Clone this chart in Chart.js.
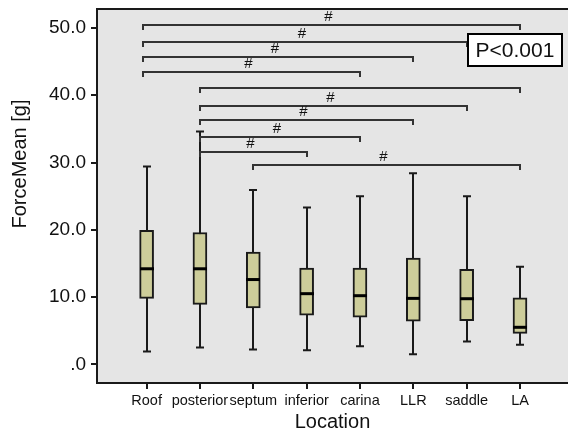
<!DOCTYPE html>
<html>
<head>
<meta charset="utf-8">
<script src="https://cdn.jsdelivr.net/npm/chart.js@4/dist/chart.umd.min.js"></script>
<style>
html, body { margin: 0; padding: 0; background: #fff; overflow: hidden; }
canvas { display: block; }
</style>
</head>
<body>
<canvas id="myChart" width="568" height="438"></canvas>
<script>
var categories = ['Roof', 'posterior', 'septum', 'inferior', 'carina', 'LLR', 'saddle', 'LA'];
var whiskerLow  = [1.9, 2.5, 2.2, 2.1, 2.7, 1.5, 3.4, 2.9];
var q1          = [9.8, 8.9, 8.4, 7.3, 7.0, 6.4, 6.5, 4.6];
var median      = [14.2, 14.2, 12.6, 10.5, 10.2, 9.8, 9.75, 5.5];
var q3          = [19.9, 19.6, 16.7, 14.3, 14.3, 15.8, 14.1, 9.9];
var whiskerHigh = [29.4, 34.6, 25.9, 23.3, 25.0, 28.4, 25.0, 14.5];
var yTicks = [0, 10, 20, 30, 40, 50];

// significance brackets: category index from / to, height in g, mark
var bracketFrom  = [0, 0, 0, 0, 1, 1, 1, 1, 1, 2];
var bracketTo    = [7, 6, 5, 4, 7, 6, 5, 4, 3, 7];
var bracketLevel = [50.4, 47.9, 45.7, 43.5, 41.1, 38.4, 36.3, 33.8, 31.5, 29.7];
var bracketMark  = ['#', '#', '#', '#', '', '#', '#', '#', '#', '#'];
var pText = 'P<0.001';

var FONT = 'Liberation Sans, Arial, sans-serif';

var extras = {
    id: 'boxExtras',
    beforeDraw: function(chart) {
        var a = chart.chartArea, ctx = chart.ctx;
        ctx.save();
        ctx.fillStyle = '#e5e5e5';
        ctx.fillRect(a.left, a.top, a.right - a.left, a.bottom - a.top);
        ctx.restore();
    },
    beforeDatasetsDraw: function(chart) {
        // whiskers, behind the boxes
        var ctx = chart.ctx, x = chart.scales.x, y = chart.scales.y;
        ctx.save();
        ctx.strokeStyle = '#1a1a1a';
        ctx.lineWidth = 2;
        for (var i = 0; i < categories.length; i++) {
            var px = Math.round(x.getPixelForValue(i + 1));
            var lo = y.getPixelForValue(whiskerLow[i]);
            var hi = y.getPixelForValue(whiskerHigh[i]);
            ctx.beginPath();
            ctx.moveTo(px, lo); ctx.lineTo(px, hi);
            ctx.moveTo(px - 4, lo); ctx.lineTo(px + 4, lo);
            ctx.moveTo(px - 4, hi); ctx.lineTo(px + 4, hi);
            ctx.stroke();
        }
        ctx.restore();
    },
    afterDatasetsDraw: function(chart) {
        var ctx = chart.ctx, x = chart.scales.x, y = chart.scales.y, a = chart.chartArea;
        ctx.save();

        // medians
        ctx.strokeStyle = '#000';
        ctx.lineWidth = 3;
        for (var i = 0; i < categories.length; i++) {
            var px = Math.round(x.getPixelForValue(i + 1));
            var m = y.getPixelForValue(median[i]);
            ctx.beginPath();
            ctx.moveTo(px - 7, m); ctx.lineTo(px + 7, m);
            ctx.stroke();
        }

        // brackets
        ctx.strokeStyle = '#333';
        ctx.lineWidth = 2;
        ctx.fillStyle = '#111';
        ctx.font = '15px ' + FONT;
        ctx.textAlign = 'center';
        ctx.textBaseline = 'middle';
        for (var j = 0; j < bracketFrom.length; j++) {
            var x1 = Math.round(x.getPixelForValue(bracketFrom[j] + 1));
            var x2 = Math.round(x.getPixelForValue(bracketTo[j] + 1));
            if (bracketFrom[j] === 0) x1 -= 4;
            var by = Math.round(y.getPixelForValue(bracketLevel[j]));
            ctx.beginPath();
            ctx.moveTo(x1, by + 5); ctx.lineTo(x1, by); ctx.lineTo(x2, by); ctx.lineTo(x2, by + 5);
            ctx.stroke();
            if (bracketMark[j]) ctx.fillText(bracketMark[j], (x1 + x2) / 2 - 3, by - 8);
        }

        // top frame line
        ctx.strokeStyle = '#1a1a1a';
        ctx.beginPath();
        ctx.moveTo(a.left - 1, a.top); ctx.lineTo(a.right, a.top);
        ctx.stroke();

        // p value box
        ctx.fillStyle = '#fff';
        ctx.fillRect(468, 34, 94, 32);
        ctx.strokeStyle = '#000';
        ctx.strokeRect(468, 34, 94, 32);
        ctx.fillStyle = '#111';
        ctx.font = '21px ' + FONT;
        ctx.fillText(pText, 515, 51);

        // y axis title
        ctx.translate(20, 164);
        ctx.rotate(-Math.PI / 2);
        ctx.font = '20px ' + FONT;
        ctx.fillText('ForceMean [g]', 0, 0);
        ctx.restore();
    }
};

var ctx = document.getElementById('myChart').getContext('2d');

var myChart = new Chart(ctx, {
    type: 'bar',
    data: {
        datasets: [{
            data: categories.map(function(c, i) { return { x: i + 1, y: [q1[i], q3[i]] }; }),
            backgroundColor: '#cdcd9a',
            borderColor: '#1a1a1a',
            borderWidth: 2,
            borderSkipped: false,
            barThickness: 14
        }]
    },
    options: {
        responsive: false,
        animation: false,
        layout: { padding: { top: 9, right: 0, left: 0, bottom: 0 } },
        plugins: { legend: { display: false }, tooltip: { enabled: false } },
        scales: {
            x: {
                type: 'linear',
                offset: false,
                min: 0.07,
                max: 8.9,
                afterBuildTicks: function(s) {
                    s.ticks = categories.map(function(c, i) { return { value: i + 1 }; });
                },
                afterFit: function(s) {
                    s.height = 55;
                    s.paddingLeft = 0; s.paddingRight = 0;
                },
                ticks: {
                    autoSkip: false,
                    maxRotation: 0,
                    padding: 3,
                    color: '#111',
                    font: { family: FONT, size: 14.5 },
                    callback: function(v) { return categories[v - 1] || ''; }
                },
                grid: { offset: false, drawOnChartArea: false, tickLength: 6, color: '#1a1a1a', lineWidth: 2 },
                border: { color: '#1a1a1a', width: 2 },
                title: {
                    display: true,
                    text: 'Location',
                    color: '#111',
                    font: { family: FONT, size: 20 },
                    padding: { top: 0, bottom: 4 }
                }
            },
            y: {
                min: -2.78,
                max: 52.82,
                afterBuildTicks: function(s) {
                    s.ticks = yTicks.map(function(v) { return { value: v }; });
                },
                afterFit: function(s) {
                    s.width = 97;
                    s.paddingTop = 0; s.paddingBottom = 0;
                },
                ticks: {
                    padding: 5,
                    color: '#111',
                    font: { family: FONT, size: 19 },
                    callback: function(v) { return v === 0 ? '.0' : v.toFixed(1); }
                },
                grid: { drawOnChartArea: false, tickLength: 6, color: '#1a1a1a', lineWidth: 2 },
                border: { color: '#1a1a1a', width: 2 }
            }
        }
    },
    plugins: [extras]
});
</script>
</body>
</html>
